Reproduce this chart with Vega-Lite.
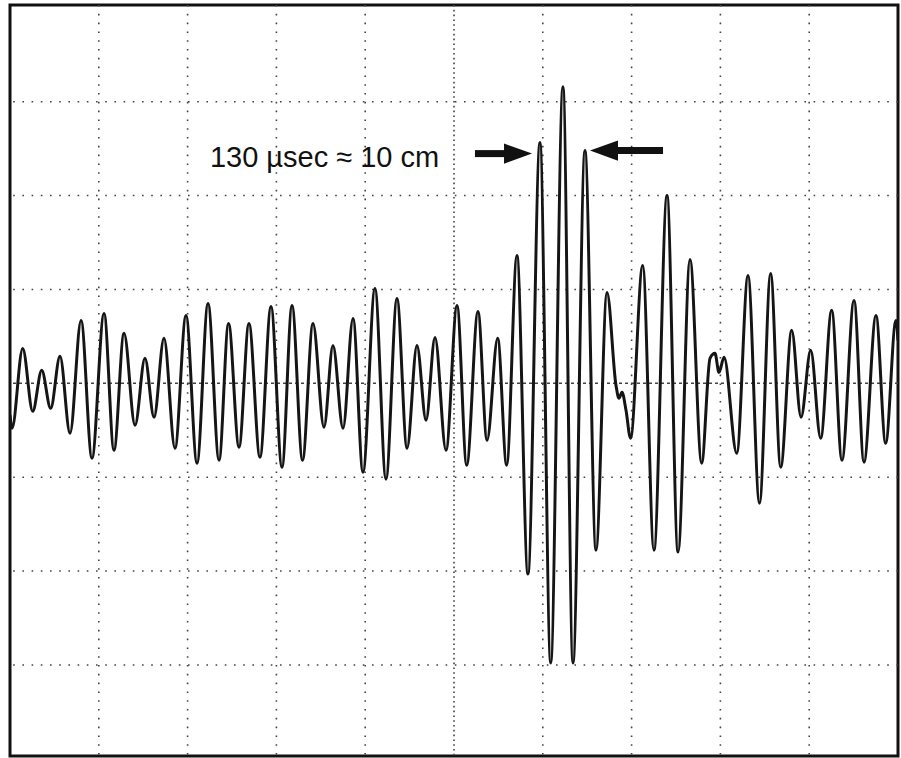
{
  "$schema": "https://vega.github.io/schema/vega-lite/v6.json",
  "width": 888,
  "height": 751,
  "autosize": {"type": "none"},
  "padding": {"left": 10, "top": 5, "right": 3, "bottom": 2},
  "background": "white",
  "config": {"view": {"stroke": "#111", "strokeWidth": 3}},
  "datasets": {
    "trace": [
      {"t": 0.0, "v": -0.34}, {"t": 0.023, "v": -0.479}, {"t": 0.143, "v": 0.372}, {"t": 0.256, "v": -0.298},
      {"t": 0.357, "v": 0.138}, {"t": 0.458, "v": -0.266}, {"t": 0.563, "v": 0.287}, {"t": 0.676, "v": -0.532},
      {"t": 0.8, "v": 0.67}, {"t": 0.923, "v": -0.798}, {"t": 1.059, "v": 0.745}, {"t": 1.171, "v": -0.713},
      {"t": 1.284, "v": 0.532}, {"t": 1.408, "v": -0.447}, {"t": 1.52, "v": 0.266}, {"t": 1.622, "v": -0.362},
      {"t": 1.734, "v": 0.479}, {"t": 1.858, "v": -0.691}, {"t": 1.982, "v": 0.723}, {"t": 2.106, "v": -0.851},
      {"t": 2.23, "v": 0.851}, {"t": 2.354, "v": -0.819}, {"t": 2.461, "v": 0.638}, {"t": 2.579, "v": -0.681},
      {"t": 2.691, "v": 0.638}, {"t": 2.815, "v": -0.787}, {"t": 2.939, "v": 0.819}, {"t": 3.063, "v": -0.894},
      {"t": 3.176, "v": 0.83}, {"t": 3.294, "v": -0.819}, {"t": 3.412, "v": 0.638}, {"t": 3.536, "v": -0.468},
      {"t": 3.637, "v": 0.404}, {"t": 3.75, "v": -0.479}, {"t": 3.863, "v": 0.691}, {"t": 3.975, "v": -0.947},
      {"t": 4.11, "v": 1.011}, {"t": 4.234, "v": -1.021}, {"t": 4.358, "v": 0.904}, {"t": 4.471, "v": -0.691},
      {"t": 4.583, "v": 0.404}, {"t": 4.685, "v": -0.394}, {"t": 4.786, "v": 0.489}, {"t": 4.91, "v": -0.713},
      {"t": 5.034, "v": 0.83}, {"t": 5.143, "v": -0.872}, {"t": 5.27, "v": 0.766}, {"t": 5.372, "v": -0.606},
      {"t": 5.492, "v": 0.479}, {"t": 5.593, "v": -0.872}, {"t": 5.709, "v": 1.362}, {"t": 5.833, "v": -2.032},
      {"t": 5.968, "v": 2.564}, {"t": 6.089, "v": -2.979}, {"t": 6.227, "v": 3.16}, {"t": 6.34, "v": -2.979},
      {"t": 6.475, "v": 2.479}, {"t": 6.599, "v": -1.777}, {"t": 6.723, "v": 0.968}, {"t": 6.824, "v": -0.021},
      {"t": 6.858, "v": -0.16}, {"t": 6.892, "v": -0.096}, {"t": 6.937, "v": -0.287}, {"t": 6.988, "v": -0.585},
      {"t": 7.125, "v": 1.255}, {"t": 7.252, "v": -1.777}, {"t": 7.399, "v": 2.0}, {"t": 7.523, "v": -1.798},
      {"t": 7.658, "v": 1.319}, {"t": 7.789, "v": -0.851}, {"t": 7.883, "v": 0.266}, {"t": 7.939, "v": 0.319},
      {"t": 7.984, "v": 0.117}, {"t": 8.041, "v": 0.277}, {"t": 8.184, "v": -0.745}, {"t": 8.311, "v": 1.149},
      {"t": 8.44, "v": -1.277}, {"t": 8.566, "v": 1.17}, {"t": 8.679, "v": -0.894}, {"t": 8.803, "v": 0.564},
      {"t": 8.908, "v": -0.362}, {"t": 9.017, "v": 0.351}, {"t": 9.129, "v": -0.585}, {"t": 9.253, "v": 0.777},
      {"t": 9.369, "v": -0.819}, {"t": 9.505, "v": 0.883}, {"t": 9.617, "v": -0.84}, {"t": 9.752, "v": 0.723},
      {"t": 9.861, "v": -0.638}, {"t": 9.977, "v": 0.67}, {"t": 10.0, "v": 0.457}
    ],
    "vgrid": [{"t": 1}, {"t": 2}, {"t": 3}, {"t": 4}, {"t": 6}, {"t": 7}, {"t": 8}, {"t": 9}],
    "hgrid": [{"v": -3}, {"v": -2}, {"v": -1}, {"v": 1}, {"v": 2}, {"v": 3}],
    "shafts": [
      {"t1": 5.236, "t2": 5.58, "v": 2.447},
      {"t1": 6.82, "t2": 7.354, "v": 2.479}
    ],
    "heads": [
      {"t": 5.721, "v": 2.447, "dir": "right"},
      {"t": 6.689, "v": 2.479, "dir": "left"}
    ],
    "label": [{"t": 3.542, "v": 2.301, "text": "130 µsec ≈ 10 cm"}]
  },
  "layer": [
    {
      "data": {"name": "vgrid"},
      "mark": {"type": "rule", "color": "#444", "strokeWidth": 1.6, "strokeDash": [1.6, 7.2]},
      "encoding": {
        "x": {"field": "t", "type": "quantitative", "scale": {"domain": [0, 10]}, "axis": null}
      }
    },
    {
      "data": {"name": "hgrid"},
      "mark": {"type": "rule", "color": "#444", "strokeWidth": 1.6, "strokeDash": [1.6, 7.6]},
      "encoding": {
        "y": {"field": "v", "type": "quantitative", "scale": {"domain": [-3.97, 4.03]}, "axis": null}
      }
    },
    {
      "data": {"values": [{"t": 5}]},
      "mark": {"type": "rule", "color": "#444", "strokeWidth": 1.6, "strokeDash": [1.6, 3.2]},
      "encoding": {
        "x": {"field": "t", "type": "quantitative", "scale": {"domain": [0, 10]}, "axis": null}
      }
    },
    {
      "data": {"values": [{"v": 0}]},
      "mark": {"type": "rule", "color": "#444", "strokeWidth": 1.6, "strokeDash": [3, 3]},
      "encoding": {
        "y": {"field": "v", "type": "quantitative", "scale": {"domain": [-3.97, 4.03]}, "axis": null}
      }
    },
    {
      "data": {"name": "trace"},
      "mark": {"type": "line", "color": "#151515", "strokeWidth": 3, "interpolate": "monotone", "clip": true},
      "encoding": {
        "x": {"field": "t", "type": "quantitative", "scale": {"domain": [0, 10]}, "axis": null},
        "y": {"field": "v", "type": "quantitative", "scale": {"domain": [-3.97, 4.03]}, "axis": null}
      }
    },
    {
      "data": {"name": "shafts"},
      "mark": {"type": "rule", "color": "#111", "strokeWidth": 7},
      "encoding": {
        "x": {"field": "t1", "type": "quantitative", "scale": {"domain": [0, 10]}, "axis": null},
        "x2": {"field": "t2"},
        "y": {"field": "v", "type": "quantitative", "scale": {"domain": [-3.97, 4.03]}, "axis": null}
      }
    },
    {
      "data": {"name": "heads"},
      "mark": {"type": "point", "filled": true, "color": "#111", "opacity": 1, "size": 784},
      "encoding": {
        "x": {"field": "t", "type": "quantitative", "scale": {"domain": [0, 10]}, "axis": null},
        "y": {"field": "v", "type": "quantitative", "scale": {"domain": [-3.97, 4.03]}, "axis": null},
        "shape": {
          "field": "dir", "type": "nominal", "legend": null,
          "scale": {"domain": ["right", "left"], "range": ["M-1,-0.72L1,0L-1,0.72Z", "M1,-0.72L-1,0L1,0.72Z"]}
        }
      }
    },
    {
      "data": {"name": "label"},
      "mark": {"type": "text", "font": "Liberation Sans", "fontSize": 29, "color": "#111", "align": "center", "baseline": "alphabetic"},
      "encoding": {
        "x": {"field": "t", "type": "quantitative", "scale": {"domain": [0, 10]}, "axis": null},
        "y": {"field": "v", "type": "quantitative", "scale": {"domain": [-3.97, 4.03]}, "axis": null},
        "text": {"field": "text"}
      }
    }
  ]
}
